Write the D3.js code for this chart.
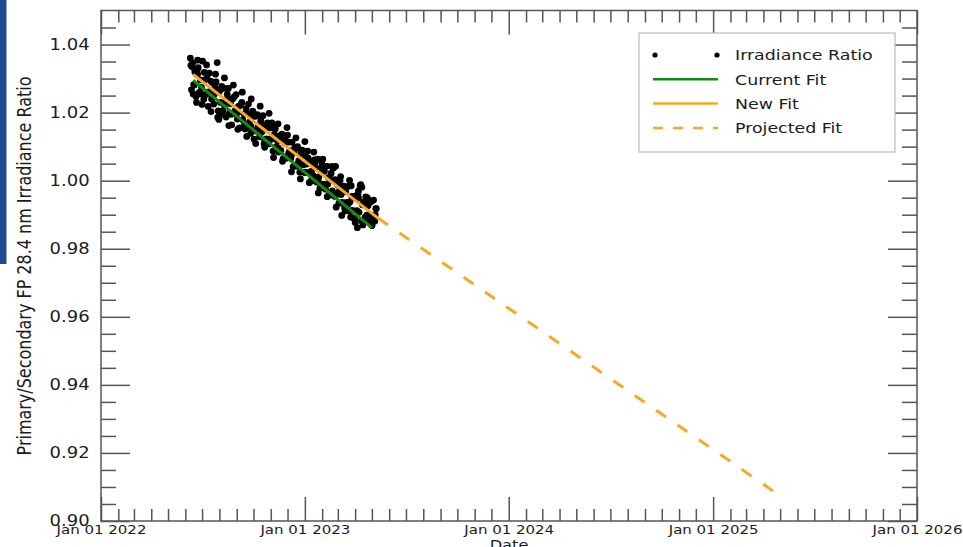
<!DOCTYPE html>
<html><head><meta charset="utf-8">
<script src="https://cdn.jsdelivr.net/npm/d3@7"></script>
<style>
body{margin:0;background:#fff;overflow:hidden}
svg{display:block}
text{font-family:"DejaVu Sans",sans-serif;fill:#1c1c1c}
</style>
</head><body>
<svg id="chart" width="963" height="547"></svg>
<script>
// Days since Jan 01 2022 for each irradiance-ratio point
const ratioDays = [
160,162,164,166,168,170,172,174,176,178,
180,182,184,186,188,190,192,194,196,198,
200,202,204,206,208,210,212,214,216,218,
220,222,224,226,228,230,232,234,236,238,
240,242,244,246,248,250,252,254,256,258,
260,262,264,266,268,270,272,274,276,278,
280,282,284,286,288,290,292,294,296,298,
300,302,304,306,308,310,312,314,316,318,
320,322,324,326,328,330,332,334,336,338,
340,342,344,346,348,350,352,354,356,358,
360,362,364,366,368,370,372,374,376,378,
380,382,384,386,388,390,392,394,396,398,
400,402,404,406,408,410,412,414,416,418,
420,422,424,426,428,430,432,434,436,438,
440,442,444,446,448,450,452,454,456,458,
460,462,464,466,468,470,472,474,476,478,
480,482,484,486,488,490,492,
161,167,173,179,185,191,197,203,209,215,
221,227,233,239,245,251,257,263,269,275,
281,287,293,299,305,311,317,323,329,335,
341,347,353,359,365,371,377,383,389,395,
401,407,413,419,425,431,437,443,449,455,
461,467,473,479,485,491,
163,171,211,447,459,465,
165,173,181,189,197,205,213,221,229,237,
245,253,261,269,277,285,293,301,309,317,
325,333,341,349,357,365,373,381,389,397,
405,413,421,429,437,445,453,461,469,477,
485,493
];
const ratioValues = [
1.0360,1.0267,1.0345,1.0282,1.0320,1.0247,1.0324,1.0332,1.0259,1.0296,
1.0274,1.0351,1.0239,1.0296,1.0253,1.0301,1.0218,1.0316,1.0262,1.0240,
1.0288,1.0225,1.0273,1.0290,1.0347,1.0205,1.0263,1.0230,1.0277,1.0204,
1.0272,1.0229,1.0187,1.0254,1.0271,1.0199,1.0226,1.0164,1.0241,1.0198,
1.0206,1.0253,1.0181,1.0218,1.0155,1.0223,1.0230,1.0178,1.0195,1.0152,
1.0210,1.0157,1.0225,1.0172,1.0139,1.0187,1.0204,1.0122,1.0189,1.0146,
1.0194,1.0161,1.0129,1.0176,1.0143,1.0191,1.0108,1.0156,1.0123,1.0170,
1.0108,1.0155,1.0123,1.0170,1.0087,1.0135,1.0152,1.0100,1.0117,1.0084,
1.0132,1.0089,1.0137,1.0064,1.0111,1.0119,1.0066,1.0134,1.0081,1.0088,
1.0066,1.0113,1.0041,1.0088,1.0095,1.0043,1.0100,1.0058,1.0025,1.0082,
1.0090,1.0047,1.0025,1.0072,1.0049,1.0087,1.0024,1.0052,0.9999,1.0056,
1.0014,1.0061,1.0039,0.9996,1.0063,1.0011,0.9978,1.0036,1.0043,0.9990,
1.0028,0.9975,1.0043,0.9990,0.9957,1.0005,1.0022,0.9970,1.0037,0.9954,
1.0042,0.9959,0.9987,0.9934,1.0001,0.9959,0.9936,0.9984,0.9921,0.9968,
0.9936,0.9983,0.9911,0.9938,0.9985,0.9913,0.9950,0.9888,0.9955,0.9912,
0.9960,0.9907,0.9985,0.9882,0.9929,0.9937,0.9884,0.9952,0.9899,0.9926,
0.9934,0.9881,0.9939,0.9896,0.9943,0.9881,0.9918,
1.0339,1.0281,1.0313,1.0255,1.0318,1.0260,1.0292,1.0254,1.0186,1.0269,
1.0221,1.0243,1.0195,1.0247,1.0200,1.0222,1.0164,1.0196,1.0158,1.0191,
1.0153,1.0165,1.0117,1.0159,1.0122,1.0154,1.0096,1.0118,1.0070,1.0113,
1.0075,1.0097,1.0049,1.0071,1.0024,1.0066,1.0028,1.0050,1.0002,1.0055,
0.9987,1.0009,0.9961,1.0003,0.9966,0.9898,0.9980,0.9932,0.9954,0.9877,
0.9949,0.9981,0.9893,0.9935,0.9868,0.9900,
1.0335,1.0230,1.0180,0.9893,0.9862,0.9988,
1.0255,1.0354,1.0224,1.0340,1.0203,1.0313,1.0192,1.0302,1.0162,1.0281,
1.0151,1.0260,1.0130,1.0240,1.0109,1.0219,1.0098,1.0198,1.0068,1.0167,
1.0057,1.0156,1.0026,1.0126,1.0005,1.0115,0.9994,1.0084,0.9964,1.0063,
0.9953,1.0042,0.9922,1.0012,0.9911,1.0001,0.9890,0.9970,0.9870,0.9949,
0.9869,0.9918
];
const currentFitDays = [165, 485];
const currentFitValues = [1.0295, 0.9862];
const newFitDays = [165, 496];
const newFitValues = [1.0312, 0.9890];
const projectedFitDays = [496, 1215];
const projectedFitValues = [0.9890, 0.9075];
const yTickValues = [0.90, 0.92, 0.94, 0.96, 0.98, 1.00, 1.02, 1.04];
const xTickYears = [2022, 2023, 2024, 2025, 2026];
const legendLabels = ["Irradiance Ratio", "Current Fit", "New Fit", "Projected Fit"];
const yTitle = "Primary/Secondary FP 28.4 nm Irradiance Ratio";
const xTitle = "Date";

const GREEN = "#138a13", ORANGE = "#f8a825", AXIS = "#555";
const SX = 1.2; // horizontal text stretch of the original image

const svg = d3.select("#chart");
const L = 101, R = 917, T = 10.5, B = 521;
const dayToDate = d => new Date(Date.UTC(2022, 0, 1) + d * 86400000);
const x = d3.scaleUtc().domain([Date.UTC(2022,0,1), Date.UTC(2026,0,1)]).range([L, R]);
const y = d3.scaleLinear().domain([0.90, 1.05]).range([B, T]);

// blue side bar
svg.append("rect").attr("x",0).attr("y",0).attr("width",6.5).attr("height",264).attr("fill","#1e4b8f");

// data
const pts = ratioDays.map((d,i)=>({date:dayToDate(d), v:ratioValues[i]}));
svg.append("g").selectAll("circle").data(pts).join("circle")
  .attr("cx",d=>x(d.date)).attr("cy",d=>y(d.v)).attr("r",3.4).attr("fill","#000");

const line = d3.line().x(d=>x(d.date)).y(d=>y(d.v));
const mk = (days, vals) => days.map((d,i)=>({date:dayToDate(d), v:vals[i]}));
svg.append("path").datum(mk(currentFitDays,currentFitValues)).attr("d",line)
  .attr("fill","none").attr("stroke",GREEN).attr("stroke-width",3);
svg.append("path").datum(mk(newFitDays,newFitValues)).attr("d",line)
  .attr("fill","none").attr("stroke",ORANGE).attr("stroke-width",3);
svg.append("path").datum(mk(projectedFitDays,projectedFitValues)).attr("d",line)
  .attr("fill","none").attr("stroke",ORANGE).attr("stroke-width",3).attr("stroke-dasharray","12,14");

// axes
const yearDates = xTickYears.map(yr => new Date(Date.UTC(yr,0,1)));
const monthDates = d3.utcMonth.range(new Date(Date.UTC(2022,0,1)), new Date(Date.UTC(2026,0,2)))
  .filter(d => d.getUTCMonth() !== 0);
const yMinor = d3.range(0.905, 1.0499, 0.005).filter(v => Math.abs(Math.round(v*50) - v*50) > 1e-6);

function styleAxis(g){
  g.select(".domain").remove();
  g.selectAll(".tick line").attr("stroke",AXIS).attr("stroke-width",1.5);
}
// bottom
svg.append("g").attr("transform",`translate(0,${B})`)
  .call(d3.axisBottom(x).tickValues(monthDates).tickSize(-12).tickFormat("")).call(styleAxis);
const xb = svg.append("g").attr("transform",`translate(0,${B})`)
  .call(d3.axisBottom(x).tickValues(yearDates).tickSize(-24).tickPadding(4).tickFormat(d3.utcFormat("%b %d %Y")))
  .call(styleAxis);
xb.selectAll("text").attr("font-size",12.5).attr("fill","#1c1c1c").attr("transform",`scale(${SX},1)`)
  .style("font-family","DejaVu Sans");
// top
svg.append("g").attr("transform",`translate(0,${T})`)
  .call(d3.axisTop(x).tickValues(monthDates).tickSize(-12).tickFormat("")).call(styleAxis);
svg.append("g").attr("transform",`translate(0,${T})`)
  .call(d3.axisTop(x).tickValues(yearDates).tickSize(-24).tickFormat("")).call(styleAxis);
// left
svg.append("g").attr("transform",`translate(${L},0)`)
  .call(d3.axisLeft(y).tickValues(yMinor).tickSize(-15).tickFormat("")).call(styleAxis);
const yl = svg.append("g").attr("transform",`translate(${L},0)`)
  .call(d3.axisLeft(y).tickValues(yTickValues).tickSize(-29).tickPadding(9).tickFormat(d3.format(".2f")))
  .call(styleAxis);
yl.selectAll("text").attr("font-size",15).attr("fill","#1c1c1c").attr("x",-9.5).attr("transform",`scale(${SX},1)`)
  .style("font-family","DejaVu Sans");
// right
svg.append("g").attr("transform",`translate(${R},0)`)
  .call(d3.axisRight(y).tickValues(yMinor).tickSize(-15).tickFormat("")).call(styleAxis);
svg.append("g").attr("transform",`translate(${R},0)`)
  .call(d3.axisRight(y).tickValues(yTickValues).tickSize(-29).tickFormat("")).call(styleAxis);

// frame
svg.append("rect").attr("x",L).attr("y",T).attr("width",R-L).attr("height",B-T)
  .attr("fill","none").attr("stroke",AXIS).attr("stroke-width",1.5);

// titles
svg.append("text").attr("transform",`translate(31,266) scale(${SX},1) rotate(-90)`)
  .attr("text-anchor","middle").attr("font-size",16).text(yTitle);
svg.append("text").attr("transform",`translate(${(L+R)/2},550) scale(${SX},1)`)
  .attr("text-anchor","middle").attr("font-size",13.5).text(xTitle);

// legend
const lg = svg.append("g");
lg.append("rect").attr("x",639).attr("y",33).attr("width",256).attr("height",119)
  .attr("fill","#fff").attr("stroke","#bbb").attr("stroke-width",1.2);
const rowY = i => 55 + i*24.3;
legendLabels.forEach((lab,i)=>{
  const yy = rowY(i);
  if(i===0){
    lg.append("circle").attr("cx",655).attr("cy",yy).attr("r",2.6).attr("fill","#000");
    lg.append("circle").attr("cx",717).attr("cy",yy).attr("r",2.6).attr("fill","#000");
  } else {
    lg.append("line").attr("x1",653).attr("x2",718).attr("y1",yy).attr("y2",yy)
      .attr("stroke", i===1 ? GREEN : ORANGE).attr("stroke-width",2.5)
      .attr("stroke-dasharray", i===3 ? "10,10" : null);
  }
  lg.append("text").attr("transform",`translate(735,${yy}) scale(${SX},1)`)
    .attr("dy","0.36em").attr("font-size",14.5).text(lab);
});
</script>
</body></html>
